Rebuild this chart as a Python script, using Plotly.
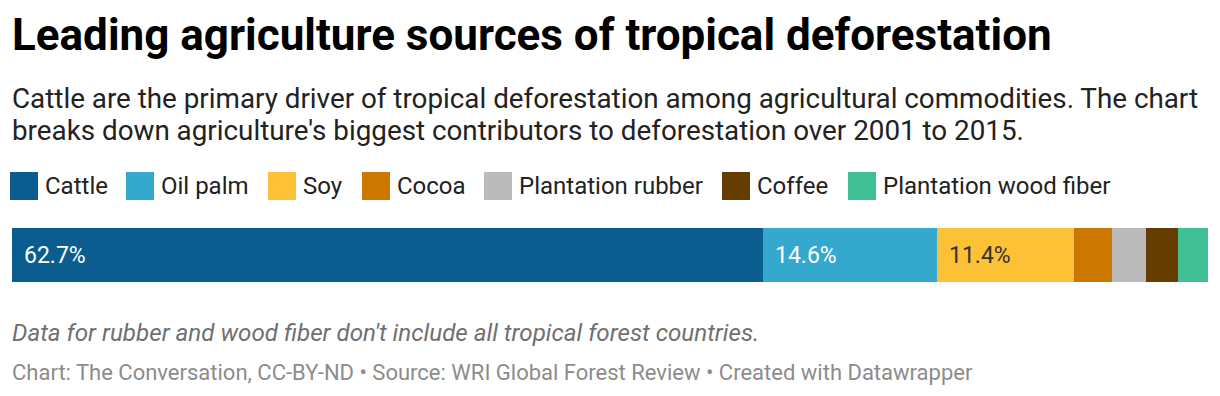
import plotly.graph_objects as go

# ---- data ----
categories = ["Cattle", "Oil palm", "Soy", "Cocoa", "Plantation rubber", "Coffee", "Plantation wood fiber"]
shares = [62.7, 14.6, 11.4, 3.2, 2.8, 2.7, 2.5]
labels = ["62.7%", "14.6%", "11.4%", "", "", "", ""]
colors = ["#0b5d8f", "#34a8cd", "#fdc137", "#cc7700", "#bbbbbb", "#663d00", "#40bf94"]
label_colors = ["#ffffff", "#ffffff", "#333333", "#333333", "#333333", "#ffffff", "#333333"]

W, H = 1220, 396
OFF = 8  # page body margin
def px(x):
    return (x - OFF) / W
def py(y):
    return 1 - (y - OFF) / H

fig = go.Figure()
for cat, val, col in zip(categories, shares, colors):
    fig.add_trace(go.Bar(
        x=[val], y=["share"], orientation="h", name=cat,
        marker=dict(color=col, line=dict(width=0)),
        showlegend=False, hoverinfo="skip",
    ))

annotations = []
# bar labels via data coordinates
base = 0
for val, lab, lc in zip(shares, labels, label_colors):
    if lab:
        annotations.append(dict(
            x=base, y="share", xref="x", yref="y", text=lab, showarrow=False,
            xanchor="left", yanchor="middle", xshift=10,
            font=dict(family="Roboto", size=23, color=lc),
        ))
    base += val

# titles
annotations.append(dict(x=px(10), y=py(35), xref="paper", yref="paper", xanchor="left", yanchor="middle",
                        text="<b>Leading agriculture sources of tropical deforestation</b>", showarrow=False,
                        font=dict(family="Roboto", size=44, color="#000000")))
annotations.append(dict(x=px(10), y=py(98), xref="paper", yref="paper", xanchor="left", yanchor="middle",
                        text="Cattle are the primary driver of tropical deforestation among agricultural commodities. The chart",
                        showarrow=False, font=dict(family="Roboto", size=27.8, color="#222222")))
annotations.append(dict(x=px(10), y=py(131), xref="paper", yref="paper", xanchor="left", yanchor="middle",
                        text="breaks down agriculture's biggest contributors to deforestation over 2001 to 2015.",
                        showarrow=False, font=dict(family="Roboto", size=27.8, color="#222222")))

# legend (layout positions)
legend_x = [10, 126, 268, 362, 484, 722, 848]
shapes = []
for cat, col, lx in zip(categories, colors, legend_x):
    shapes.append(dict(type="rect", xref="paper", yref="paper",
                       x0=px(lx), x1=px(lx + 28), y0=py(200), y1=py(172),
                       fillcolor=col, line=dict(width=0)))
    annotations.append(dict(x=px(lx + 33), y=py(186), xref="paper", yref="paper",
                            xanchor="left", yanchor="middle", text=cat, showarrow=False,
                            font=dict(family="Roboto", size=24, color="#222222")))

# notes
annotations.append(dict(x=px(10), y=py(333), xref="paper", yref="paper", xanchor="left", yanchor="middle",
                        text="<i>Data for rubber and wood fiber don't include all tropical forest countries.</i>",
                        showarrow=False, font=dict(family="Roboto", size=24.2, color="#707070")))
annotations.append(dict(x=px(10), y=py(372), xref="paper", yref="paper", xanchor="left", yanchor="middle",
                        text="Chart: The Conversation, CC-BY-ND • Source: WRI Global Forest Review • Created with Datawrapper",
                        showarrow=False, font=dict(family="Roboto", size=22, color="#8c8c8c")))

fig.update_layout(
    width=W, height=H, barmode="stack", bargap=0,
    margin=dict(l=0, r=0, t=0, b=0),
    paper_bgcolor="#ffffff", plot_bgcolor="#ffffff",
    xaxis=dict(domain=[px(12), px(1208)], range=[0, sum(shares)], visible=False, fixedrange=True),
    yaxis=dict(domain=[py(282), py(228)], visible=False, fixedrange=True),
    annotations=annotations, shapes=shapes,
)

fig.write_html("out.html")
